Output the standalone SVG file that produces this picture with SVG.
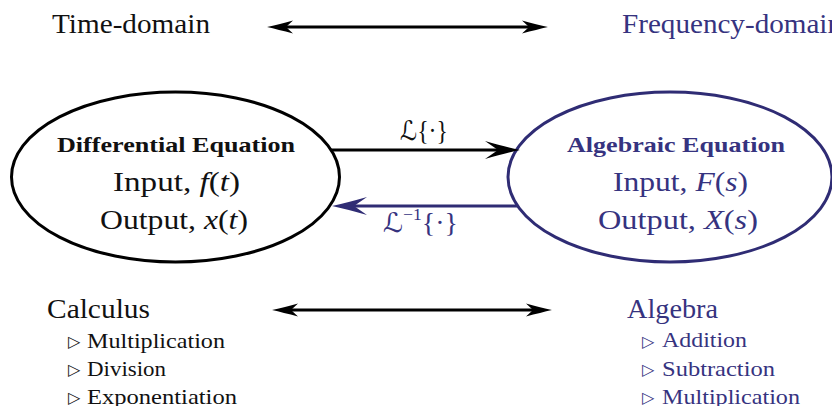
<svg xmlns="http://www.w3.org/2000/svg" width="832" height="406" viewBox="0 0 832 406">
<defs>
<style>
.t{font-family:"Liberation Serif","Times New Roman",serif;fill:#111}
.bl{fill:#36337f}
.big{font-size:27px}
.item{font-size:22px}
.bold{font-weight:bold;font-size:22px}
.i{font-style:italic}
.tri{font-family:"DejaVu Sans",sans-serif;font-size:16px}
.scr{font-family:"DejaVu Serif","DejaVu Sans",serif;font-style:italic}
.ln{fill:none;stroke-width:3}
</style>
<marker id="hs" viewBox="-27 -8 28 16" markerWidth="28" markerHeight="16" refX="-18" refY="0" orient="auto-start-reverse" markerUnits="userSpaceOnUse">
<path d="M0,0 Q-11,-2.5 -26,-6.5 L-19,0 L-26,6.5 Q-11,2.5 0,0Z" fill="#000"/>
</marker>
<marker id="hl" viewBox="-36 -10 37 20" markerWidth="37" markerHeight="20" refX="-21" refY="0" orient="auto" markerUnits="userSpaceOnUse">
<path d="M0,0 Q-14,-3 -35,-9 L-22,0 L-35,9 Q-14,3 0,0Z" fill="#000"/>
</marker>
<marker id="hb" viewBox="-36 -10 37 20" markerWidth="37" markerHeight="20" refX="-21" refY="0" orient="auto" markerUnits="userSpaceOnUse">
<path d="M0,0 Q-14,-3 -35,-9 L-22,0 L-35,9 Q-14,3 0,0Z" fill="#2f2c74"/>
</marker>
</defs>
<rect width="832" height="406" fill="#fff"/>

<g id="time-domain"><text class="t big" x="52" y="33" textLength="158" lengthAdjust="spacingAndGlyphs">Time-domain</text></g>
<g id="frequency-domain"><text class="t big bl" x="622" y="33" textLength="220" lengthAdjust="spacingAndGlyphs">Frequency-domain</text></g>

<g id="differential-equation">
<ellipse cx="175.5" cy="177" rx="164" ry="85" fill="#fff" stroke="#000" stroke-width="3"/>
<text class="t bold" x="57" y="152" textLength="238" lengthAdjust="spacingAndGlyphs">Differential Equation</text>
<text class="t big" x="113" y="191" textLength="127" lengthAdjust="spacingAndGlyphs">Input, <tspan class="i">f</tspan>(<tspan class="i">t</tspan>)</text>
<text class="t big" x="100" y="229" textLength="148" lengthAdjust="spacingAndGlyphs">Output, <tspan class="i">x</tspan>(<tspan class="i">t</tspan>)</text>
</g>

<g id="algebraic-equation">
<ellipse cx="670" cy="177" rx="162" ry="85" fill="#fff" stroke="#2f2c74" stroke-width="3"/>
<text class="t bold bl" x="567" y="152" textLength="218" lengthAdjust="spacingAndGlyphs">Algebraic Equation</text>
<text class="t big bl" x="613" y="191" textLength="135" lengthAdjust="spacingAndGlyphs">Input, <tspan class="i">F</tspan>(<tspan class="i">s</tspan>)</text>
<text class="t big bl" x="598" y="229" textLength="160" lengthAdjust="spacingAndGlyphs">Output, <tspan class="i">X</tspan>(<tspan class="i">s</tspan>)</text>
</g>

<g id="calculus">
<text class="t big" x="47" y="318" textLength="103" lengthAdjust="spacingAndGlyphs">Calculus</text>
<text class="tri" x="68" y="347" fill="#111">▷</text>
<text class="t item" x="87" y="348" textLength="138" lengthAdjust="spacingAndGlyphs">Multiplication</text>
<text class="tri" x="68" y="375" fill="#111">▷</text>
<text class="t item" x="87" y="376" textLength="79" lengthAdjust="spacingAndGlyphs">Division</text>
<text class="tri" x="68" y="403" fill="#111">▷</text>
<text class="t item" x="87" y="404" textLength="150" lengthAdjust="spacingAndGlyphs">Exponentiation</text>
</g>

<g id="algebra">
<text class="t big bl" x="627" y="318" textLength="91" lengthAdjust="spacingAndGlyphs">Algebra</text>
<text class="tri bl" x="642" y="347">▷</text>
<text class="t item bl" x="662" y="347" textLength="85" lengthAdjust="spacingAndGlyphs">Addition</text>
<text class="tri bl" x="642" y="375">▷</text>
<text class="t item bl" x="662" y="376" textLength="113" lengthAdjust="spacingAndGlyphs">Subtraction</text>
<text class="tri bl" x="642" y="403">▷</text>
<text class="t item bl" x="662" y="404" textLength="138" lengthAdjust="spacingAndGlyphs">Multiplication</text>
</g>

<g id="connectors">
<line class="ln" x1="285" y1="27" x2="530" y2="27" stroke="#000" marker-start="url(#hs)" marker-end="url(#hs)"/>
<line class="ln" x1="290" y1="310" x2="534" y2="310" stroke="#000" marker-start="url(#hs)" marker-end="url(#hs)"/>
<line class="ln" x1="331" y1="150" x2="499" y2="150" stroke="#000" marker-end="url(#hl)"/>
<line class="ln" x1="518" y1="206" x2="353" y2="206" stroke="#2f2c74" marker-end="url(#hb)"/>
<text class="t big" x="400" y="140" textLength="48" lengthAdjust="spacingAndGlyphs"><tspan class="scr">ℒ</tspan>{·}</text>
<text class="t big bl" x="383" y="232" textLength="75" lengthAdjust="spacingAndGlyphs"><tspan class="scr">ℒ</tspan><tspan font-size="17" dy="-12">−1</tspan><tspan dy="12">{·}</tspan></text>
</g>
</svg>
